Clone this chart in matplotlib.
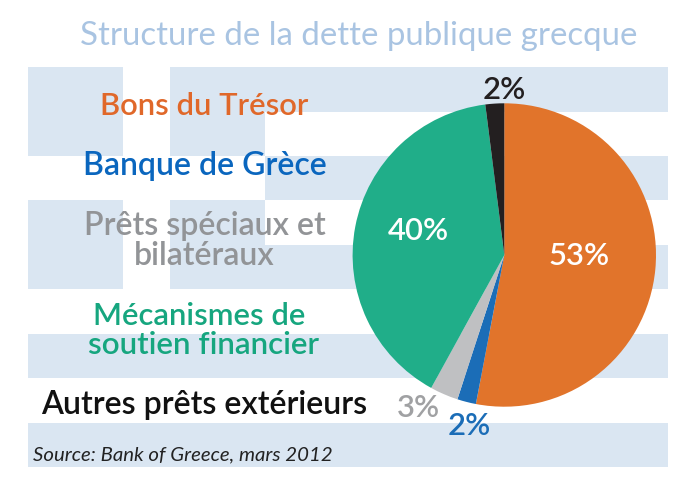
import matplotlib
matplotlib.use("Agg")
import matplotlib.pyplot as plt
from matplotlib.patches import Rectangle

W, H = 695, 483
plt.rcParams['font.family'] = ['Lato', 'DejaVu Sans']

# data
categories = ["Bons du Trésor", "Banque de Grèce", "Prêts spéciaux et\nbilatéraux",
              "Mécanismes de\nsoutien financier", "Autres prêts extérieurs"]
shares = [53, 2, 3, 40, 2]
colors = ["#E1742B", "#1B6DB7", "#BFC0C2", "#20AE89", "#231F20"]
text_colors = ["#E0682A", "#0A66BE", "#929497", "#16A67F", "#111111"]
title = "Structure de la dette publique grecque"
source = "Source: Bank of Greece, mars 2012"

flag_blue = "#DAE6F2"

fig = plt.figure(figsize=(W / 100, H / 100), dpi=100, facecolor="white")
ax = fig.add_axes([0, 0, 1, 1])
ax.set_xlim(0, W)
ax.set_ylim(0, H)
ax.set_aspect("equal")
ax.axis("off")

def Y(py):
    return H - py

def rect(x0, y0, x1, y1):
    ax.add_patch(Rectangle((x0, Y(y1)), x1 - x0, y1 - y0, fc=flag_blue, ec="none", zorder=1))

# flag stripes
for y0, y1 in [(67, 111.5), (156, 200), (245, 289), (334, 378), (422.5, 467)]:
    rect(265 if y0 < 289 else 28, y0, 668, y1)
# canton
for x0, x1 in [(28, 122.5), (170, 265)]:
    for y0, y1 in [(67, 155.5), (200, 288.7)]:
        rect(x0, y0, x1, y1)

# pie
cx, cy, R = 504.3, 255, 151.7
ax.pie(shares, colors=colors, startangle=90, counterclock=False, center=(cx, Y(cy)), radius=R,
       frame=True, wedgeprops=dict(linewidth=0, zorder=3))
ax.set_xlim(0, W)
ax.set_ylim(0, H)
ax.axis("off")

def label(x, y, s, c, size, **kw):
    ax.text(x, Y(y), s, color=c, fontsize=size, ha="center", va="center", zorder=5, **kw)

FS = 22.3
FL = 23
W8 = "semibold"
label(358.5, 36, title, "#A9C4E2", 23.8)
label(204, 106, categories[0], text_colors[0], FS, fontweight=W8)
label(204.5, 166, categories[1], text_colors[1], FL, fontweight=W8)
pret1, pret2 = categories[2].split("\n")
label(205, 226, pret1, text_colors[2], FL, fontweight=W8)
label(204.5, 256, pret2, text_colors[2], FL, fontweight=W8)
meca1, meca2 = categories[3].split("\n")
label(199, 316, meca1, text_colors[3], FS, fontweight=W8)
label(204, 345.5, meca2, text_colors[3], FS + 0.3, fontweight=W8)
label(204.5, 405, categories[4], text_colors[4], FL, fontweight=W8)
ax.text(33, Y(455), source, color="#222222", fontsize=14.7, style="italic", ha="left", va="center", zorder=5)

label(579, 256, f"{shares[0]}%", "white", FS, fontweight=W8)
label(418, 231, f"{shares[3]}%", "white", FS, fontweight=W8)
label(504, 90, f"{shares[4]}%", "#231F20", FS, fontweight=W8)
label(469, 426, f"{shares[1]}%", "#1B6DB7", FS, fontweight=W8)
label(418.5, 408, f"{shares[2]}%", "#A0A1A3", FS, fontweight=W8)

fig.savefig("out.png", dpi=100, facecolor="white")
